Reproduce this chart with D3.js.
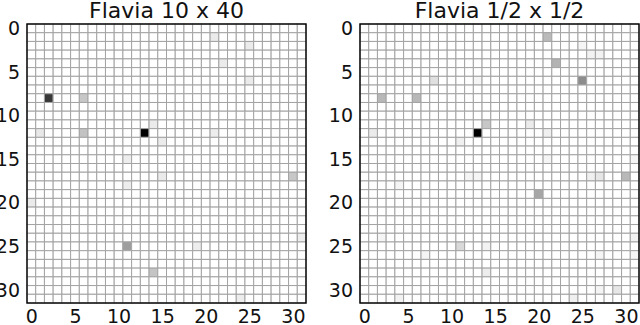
<!DOCTYPE html>
<html>
 <head>
  <meta charset="utf-8">
  <title>Flavia</title>
  <script src="https://cdn.jsdelivr.net/npm/d3@7"></script>
  <style>
    body {
        margin: 0;
        background: #fff;
        font-family: "DejaVu Sans", sans-serif;
    }
  </style>
 </head>
 <body>
  <div id="draw"></div>
  <script type="application/javascript">
    // grid is 32 x 32, only non-white cells listed (col, row, value 0..1)
    var titles = ["Flavia 10 x 40", "Flavia 1/2 x 1/2"];
    var tickVals = [0, 5, 10, 15, 20, 25, 30];
    var nCells = 32;

    var leftCols = [21, 25, 22, 25, 2, 6, 14, 1, 6, 13, 21, 15, 11, 15, 30, 11, 0, 31, 11, 19, 14, 24];
    var leftRows = [1, 2, 4, 6, 8, 8, 11, 12, 12, 12, 12, 13, 15, 17, 17, 18, 20, 24, 25, 25, 28, 31];
    var leftVals = [0.08, 0.08, 0.08, 0.08, 0.78, 0.22, 0.08, 0.09, 0.24, 1.0, 0.07, 0.08, 0.07, 0.08, 0.22, 0.07, 0.08, 0.07, 0.38, 0.07, 0.23, 0.07];

    var rightCols = [21, 25, 26, 27, 22, 8, 13, 25, 2, 6, 14, 19, 1, 13, 21, 11, 21, 31, 12, 13, 26, 27, 30, 4, 20, 2, 31, 11, 14, 7, 27, 31, 14, 27, 29, 4, 24];
    var rightRows = [1, 2, 3, 3, 4, 6, 6, 6, 8, 8, 11, 11, 12, 12, 12, 13, 15, 15, 17, 17, 17, 17, 17, 18, 19, 24, 24, 25, 25, 26, 26, 26, 28, 30, 30, 31, 31];
    var rightVals = [0.27, 0.04, 0.05, 0.05, 0.3, 0.12, 0.04, 0.45, 0.28, 0.28, 0.22, 0.08, 0.08, 1.0, 0.06, 0.06, 0.04, 0.04, 0.04, 0.04, 0.06, 0.1, 0.28, 0.04, 0.35, 0.04, 0.05, 0.15, 0.05, 0.04, 0.04, 0.04, 0.07, 0.04, 0.1, 0.05, 0.06];

    var panels = [
      {x: 27, cols: leftCols, rows: leftRows, vals: leftVals},
      {x: 360, cols: rightCols, rows: rightRows, vals: rightVals}
    ];

    var w = 640, h = 325;
    var plotTop = 24, size = 279;

    var svg = d3.select('#draw').append('svg')
      .attr('width', w).attr('height', h);

    var color = d3.scaleLinear().domain([0, 1]).range(['#ffffff', '#000000']);

    panels.forEach(function(p, pi) {
      var x = d3.scaleLinear().domain([-0.5, nCells - 0.5]).range([p.x, p.x + size]);
      var y = d3.scaleLinear().domain([-0.5, nCells - 0.5]).range([plotTop, plotTop + size]);

      // full matrix, white by default
      var cells = [];
      for (var r = 0; r < nCells; r++) {
        for (var c = 0; c < nCells; c++) {
          cells.push({c: c, r: r, v: 0});
        }
      }
      p.cols.forEach(function(c, i) {
        cells[p.rows[i] * nCells + c].v = p.vals[i];
      });

      var g = svg.append('g');

      g.selectAll('rect.cell').data(cells).enter().append('rect')
        .attr('class', 'cell')
        .attr('x', function(d) { return x(d.c - 0.5); })
        .attr('y', function(d) { return y(d.r - 0.5); })
        .attr('width', x(0.5) - x(-0.5))
        .attr('height', y(0.5) - y(-0.5))
        .attr('fill', function(d) { return color(d.v); })
        .attr('stroke', '#a3a3a3')
        .attr('stroke-width', 1);

      // frame
      g.append('rect')
        .attr('x', x(-0.5)).attr('y', y(-0.5))
        .attr('width', size).attr('height', size)
        .attr('fill', 'none').attr('stroke', '#000').attr('stroke-width', 1.4);

      var xAxis = d3.axisBottom(x).tickValues(tickVals).tickSize(0).tickPadding(7);
      var yAxis = d3.axisLeft(y).tickValues(tickVals).tickSize(0).tickPadding(7);

      var gx = g.append('g').attr('transform', 'translate(0,' + (plotTop + size) + ')').call(xAxis);
      var gy = g.append('g').attr('transform', 'translate(' + p.x + ',0)').call(yAxis);
      [gx, gy].forEach(function(a) {
        a.select('.domain').remove();
        a.selectAll('text')
          .attr('font-family', '"DejaVu Sans", sans-serif')
          .attr('font-size', 19)
          .attr('fill', '#111');
      });

      g.append('text')
        .attr('x', p.x + size / 2)
        .attr('y', 18)
        .attr('text-anchor', 'middle')
        .attr('font-family', '"DejaVu Sans", sans-serif')
        .attr('font-size', 22)
        .attr('fill', '#111')
        .text(titles[pi]);
    });
  </script>
 </body>
</html>
